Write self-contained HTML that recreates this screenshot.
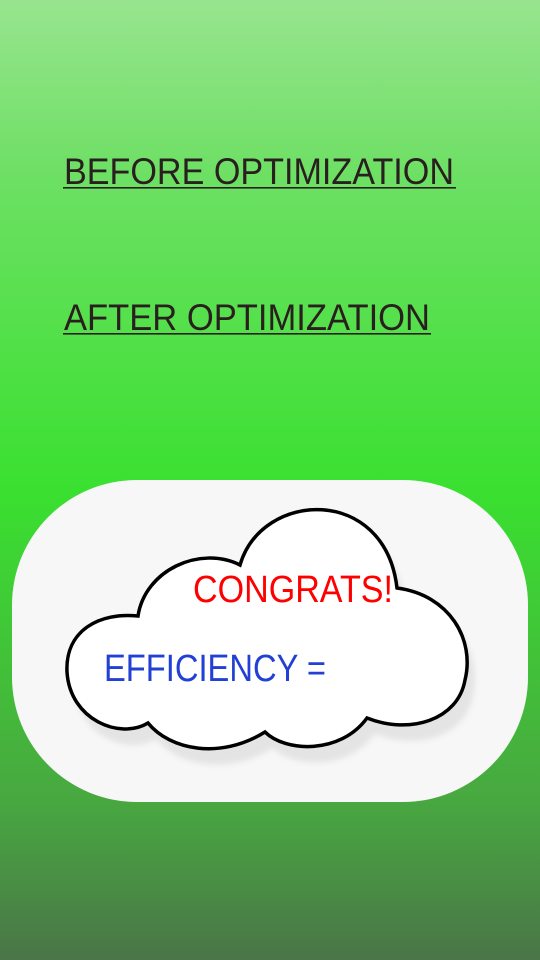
<!DOCTYPE html>
<html><head><meta charset="utf-8"><style>
html,body{margin:0;padding:0;}
body{width:540px;height:960px;overflow:hidden;background:linear-gradient(to bottom,#98e48f 0px,#6ee065 170px,#3ae030 490px,#48a840 800px,#4a7548 960px);}
svg{display:block;}
</style></head><body>
<svg width="540" height="960" viewBox="0 0 540 960" xmlns="http://www.w3.org/2000/svg">
<defs><filter id="b" x="-10%" y="-10%" width="120%" height="130%"><feGaussianBlur stdDeviation="3"/></filter></defs>
<g font-family="Liberation Sans, sans-serif" fill="#2a1f1f">
<text x="64" y="184" font-size="37" textLength="390" lengthAdjust="spacingAndGlyphs">BEFORE OPTIMIZATION</text>
<rect x="63" y="187" width="393" height="1.6"/>
<text x="64" y="330" font-size="37" textLength="366" lengthAdjust="spacingAndGlyphs">AFTER OPTIMIZATION</text>
<rect x="63" y="333" width="368" height="1.6"/>
</g>
<rect x="12" y="480" width="516" height="322" rx="125" ry="125" fill="#f7f7f7"/>
<path transform="translate(8,16)" fill="#e4e4e4" filter="url(#b)" d="M148,723 C120,740 70,720 67,672 C65,630 100,612 138,616 C145,570 200,545 240,565 C262,490 385,485 397,588 C450,595 475,640 465,680 C458,720 410,735 367,718 C340,755 285,752 265,732 C220,760 170,750 148,723 Z"/>
<path fill="#fff" stroke="#000" stroke-width="3.5" d="M148,723 C120,740 70,720 67,672 C65,630 100,612 138,616 C145,570 200,545 240,565 C262,490 385,485 397,588 C450,595 475,640 465,680 C458,720 410,735 367,718 C340,755 285,752 265,732 C220,760 170,750 148,723 Z"/>
<g font-family="Liberation Sans, sans-serif">
<text x="193" y="602" font-size="38" fill="#ff0000" textLength="200" lengthAdjust="spacingAndGlyphs">CONGRATS!</text>
<text x="104" y="681" font-size="38" fill="#2340d4" textLength="222" lengthAdjust="spacingAndGlyphs">EFFICIENCY =</text>
</g>
</svg>
</body></html>
